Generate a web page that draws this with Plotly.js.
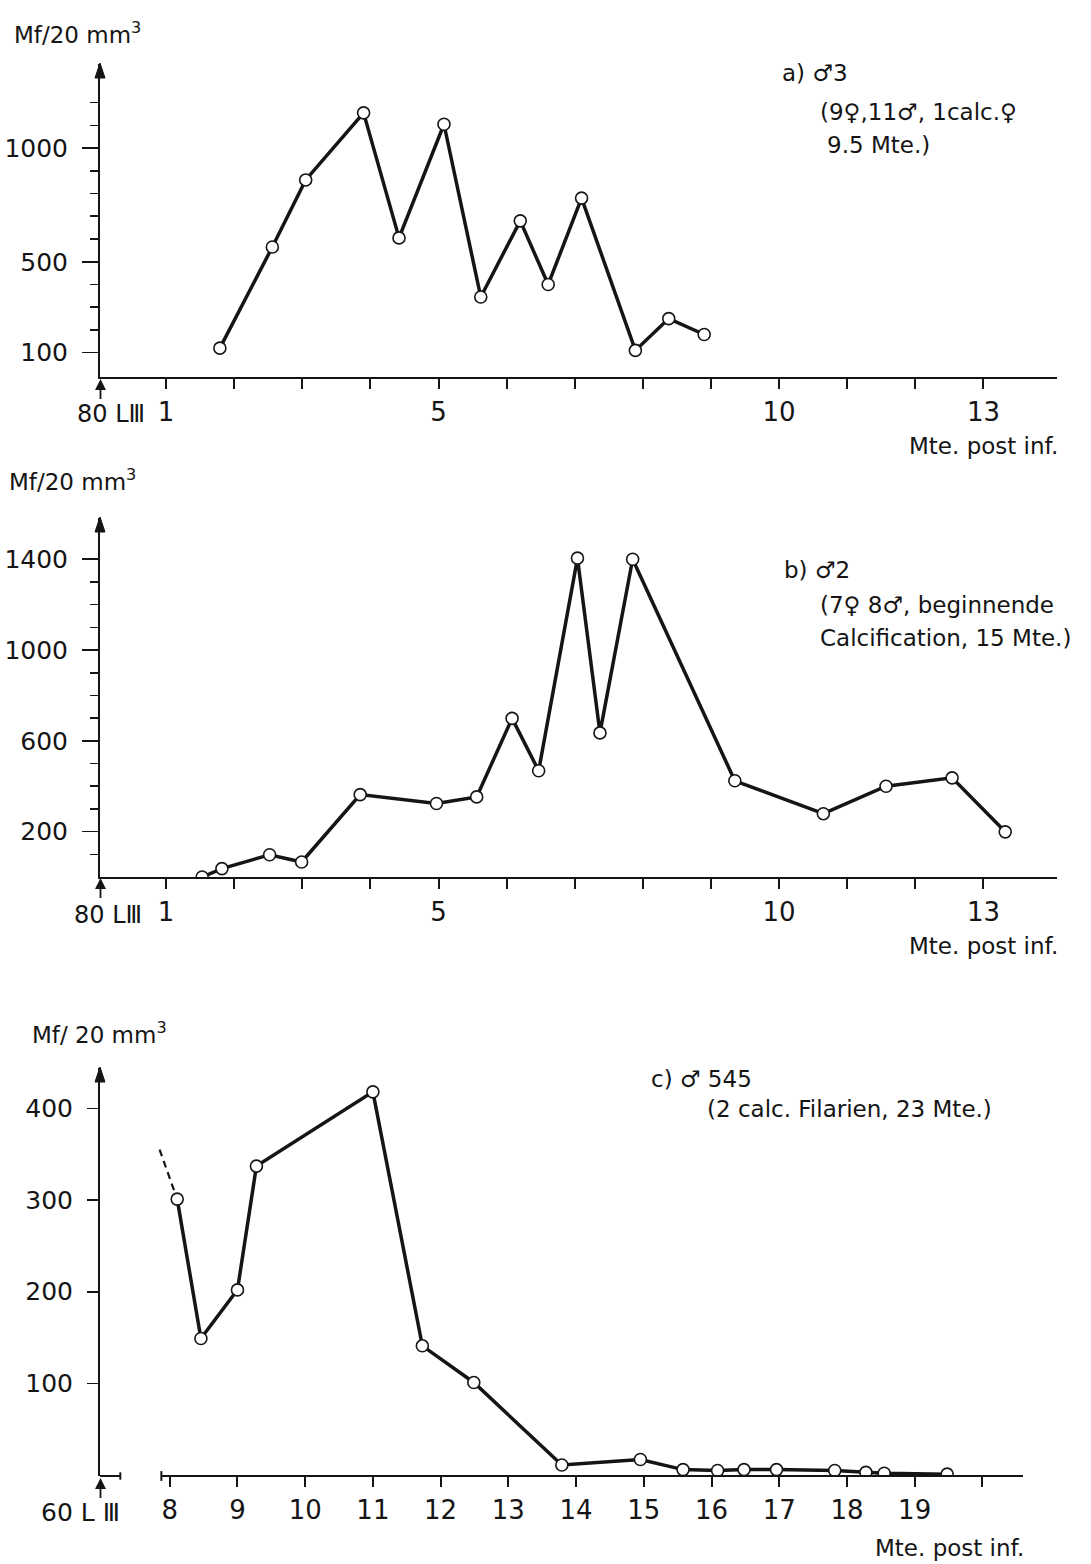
<!DOCTYPE html>
<html>
<head>
<meta charset="utf-8">
<script src="https://cdn.plot.ly/plotly-3.0.1.min.js"></script>
<style>
  html, body { margin: 0; padding: 0; background: #fff; }
  #plot { width: 1091px; height: 1564px; }
</style>
</head>
<body>
<div id="plot"></div>
<script>
// Mf/20 mm3 over months post infection, three animals

// a) male 3
const aMonths = [1.79, 2.56, 3.05, 3.90, 4.42, 5.08, 5.62, 6.20, 6.61, 7.10, 7.89, 8.38, 8.90];
const aMf = [120, 565, 860, 1155, 605, 1105, 345, 680, 400, 780, 110, 250, 180];

// b) male 2
const bMonths = [1.53, 1.82, 2.52, 2.99, 3.85, 4.97, 5.56, 6.08, 6.47, 7.04, 7.37, 7.85, 9.35, 10.65, 11.57, 12.54, 13.32];
const bMf = [0, 37, 98, 66, 363, 324, 353, 699, 468, 1405, 635, 1400, 424, 279, 400, 437, 199];

// c) male 545
const cMonths = [8.11, 8.46, 9.00, 9.28, 11.0, 11.73, 12.49, 13.79, 14.95, 15.58, 16.09, 16.48, 16.96, 17.82, 18.28, 18.55, 19.48];
const cMf = [301, 149, 202, 337, 418, 141, 101, 11, 17, 6, 5, 6, 6, 5, 3, 2, 1];
const cDashMonths = [7.85, 8.11];
const cDashMf = [355, 301];

// ticks
const abXTicks = [1, 2, 3, 4, 5, 6, 7, 8, 9, 10, 11, 12, 13];
const abXLabels = ['1', '', '', '', '5', '', '', '', '', '10', '', '', '13'];
const cXTicks = [8, 9, 10, 11, 12, 13, 14, 15, 16, 17, 18, 19, 20];
const cXLabels = ['8', '9', '10', '11', '12', '13', '14', '15', '16', '17', '18', '19', ''];
const aYTicks = [100, 500, 1000];
const aYMinor = [200, 300, 400, 600, 700, 800, 900, 1100, 1200];
const bYTicks = [200, 600, 1000, 1400];
const bYMinor = [100, 300, 400, 500, 700, 800, 900, 1100, 1200, 1300];
const cYTicks = [100, 200, 300, 400];

const W = 1091, H = 1564;
const ink = '#151515';
const FONT = 'DejaVu Sans, sans-serif';
const px = v => v / W;
const py = v => 1 - v / H;

function series(x, y, xa, ya) {
  return {
    x: x, y: y, xaxis: xa, yaxis: ya,
    type: 'scatter', mode: 'lines+markers',
    line: { color: ink, width: 3.5 },
    marker: { symbol: 'circle', size: 12, color: '#fff', line: { color: ink, width: 1.6 } },
    hoverinfo: 'skip', showlegend: false,
  };
}

const data = [
  series(aMonths, aMf, 'x', 'y'),
  series(bMonths, bMf, 'x2', 'y2'),
  {
    x: cDashMonths, y: cDashMf, xaxis: 'x3', yaxis: 'y3',
    type: 'scatter', mode: 'lines',
    line: { color: ink, width: 2.2, dash: '7px,5px' },
    hoverinfo: 'skip', showlegend: false,
  },
  series(cMonths, cMf, 'x3', 'y3'),
];

function xAxis(domain, range, anchor, tickvals, ticktext, showline) {
  return {
    domain: domain, range: range, anchor: anchor,
    showline: showline, linecolor: ink, linewidth: 2,
    ticks: 'outside', ticklen: 10, tickwidth: 2, tickcolor: ink,
    tickmode: 'array', tickvals: tickvals, ticktext: ticktext,
    tickfont: { family: FONT, size: 26, color: ink },
    ticklabelstandoff: 1,
    showgrid: false, zeroline: false, fixedrange: true,
  };
}

function yAxis(domain, range, anchor, tickvals, minor, ticklen, size) {
  const ax = {
    domain: domain, range: range, anchor: anchor,
    showline: true, linecolor: ink, linewidth: 2,
    ticks: 'outside', ticklen: ticklen, tickwidth: 1.6, tickcolor: ink,
    tickmode: 'array', tickvals: tickvals,
    tickfont: { family: FONT, size: size, color: ink },
    ticklabelstandoff: 9,
    showgrid: false, zeroline: false, fixedrange: true,
  };
  if (minor) {
    ax.minor = { tickmode: 'array', tickvals: minor, ticks: 'outside', ticklen: 8, tickwidth: 1.6, tickcolor: ink, showgrid: false };
  }
  return ax;
}

function txt(text, x, y, size, xanchor) {
  return {
    text: text, xref: 'paper', yref: 'paper', x: px(x), y: py(y),
    xanchor: xanchor || 'left', yanchor: 'middle', showarrow: false,
    font: { family: FONT, size: size, color: ink },
  };
}

const annotations = [
  // panel a
  txt('Mf/20 mm<sup>3</sup>', 12, 33, 23),
  txt('a) ♂3', 780, 73, 23),
  txt('(9♀,11♂, 1calc.♀', 818, 112, 23),
  txt('9.5 Mte.)', 825, 145, 23),
  txt('80 LⅢ', 111, 414, 24, 'center'),
  txt('Mte. post inf.', 1060, 446, 23, 'right'),
  // panel b
  txt('Mf/20 mm<sup>3</sup>', 7, 480, 23),
  txt('b) ♂2', 782, 570, 23),
  txt('(7♀ 8♂, beginnende', 818, 605, 23),
  txt('Calcification, 15 Mte.)', 818, 638, 23),
  txt('80 LⅢ', 108, 915, 24, 'center'),
  txt('Mte. post inf.', 1060, 946, 23, 'right'),
  // panel c
  txt('Mf/ 20 mm<sup>3</sup>', 30, 1033, 23),
  txt('c) ♂ 545', 649, 1079, 23),
  txt('(2 calc. Filarien, 23 Mte.)', 705, 1109, 23),
  txt('60 L Ⅲ', 80, 1512, 25, 'center'),
  txt('Mte. post inf.', 1026, 1548, 23, 'right'),
];

// arrowheads in pixels around a paper anchor (paper shapes are not clipped)
function arrowShape(xa, ya, path, w) {
  return {
    type: 'path', xref: 'paper', yref: 'paper', xsizemode: 'pixel', ysizemode: 'pixel',
    xanchor: px(xa), yanchor: py(ya), path: path,
    fillcolor: ink, line: { color: ink, width: w },
  };
}
const headPath = 'M -5 -15 L 5 -15 L 0 0 Z';
const shaftPath = 'M -4 -8 L 4 -8 L 0 0 Z M 0 -8 L 0 -18';

// broken x axis of panel c
const seg = (x0, x1, y0, y1, w) => ({
  type: 'line', xref: 'x3', yref: 'y3 domain', x0: x0, x1: x1, y0: y0, y1: y1,
  line: { color: ink, width: w },
});
const shapes = [
  seg(6.97, 7.27, 0, 0, 2),
  seg(7.27, 7.27, -0.009, 0.009, 2),
  seg(7.876, 20.6, 0, 0, 2),
  seg(7.876, 7.876, -0.012, 0.012, 2),
  arrowShape(100, 63, headPath, 1),
  arrowShape(100, 517, headPath, 1),
  arrowShape(100, 1067, headPath, 1),
  arrowShape(100.5, 381, shaftPath, 1.8),
  arrowShape(100.5, 880, shaftPath, 1.8),
  arrowShape(100.5, 1480, shaftPath, 1.8),
];

const layout = {
  width: W, height: H,
  margin: { l: 0, r: 0, t: 0, b: 0 },
  paper_bgcolor: '#fff', plot_bgcolor: '#fff',
  showlegend: false,
  font: { family: FONT, color: ink },
  xaxis: xAxis([px(100), px(1057)], [0.03, 14.08], 'y', abXTicks, abXLabels, true),
  yaxis: yAxis([py(377), py(64)], [-7, 1370], 'x', aYTicks, aYMinor, 16, 25),
  xaxis2: xAxis([px(100), px(1057)], [0.03, 14.08], 'y2', abXTicks, abXLabels, true),
  yaxis2: yAxis([py(877), py(518)], [0, 1582], 'x2', bYTicks, bYMinor, 16, 25),
  xaxis3: xAxis([px(100), px(1023)], [6.97, 20.6], 'y3', cXTicks, cXLabels, false),
  yaxis3: yAxis([py(1476), py(1068)], [-1, 444], 'x3', cYTicks, null, 11, 25),
  annotations: annotations,
  shapes: shapes,
};

Plotly.newPlot('plot', data, layout, { displayModeBar: false, staticPlot: true });
</script>
</body>
</html>
